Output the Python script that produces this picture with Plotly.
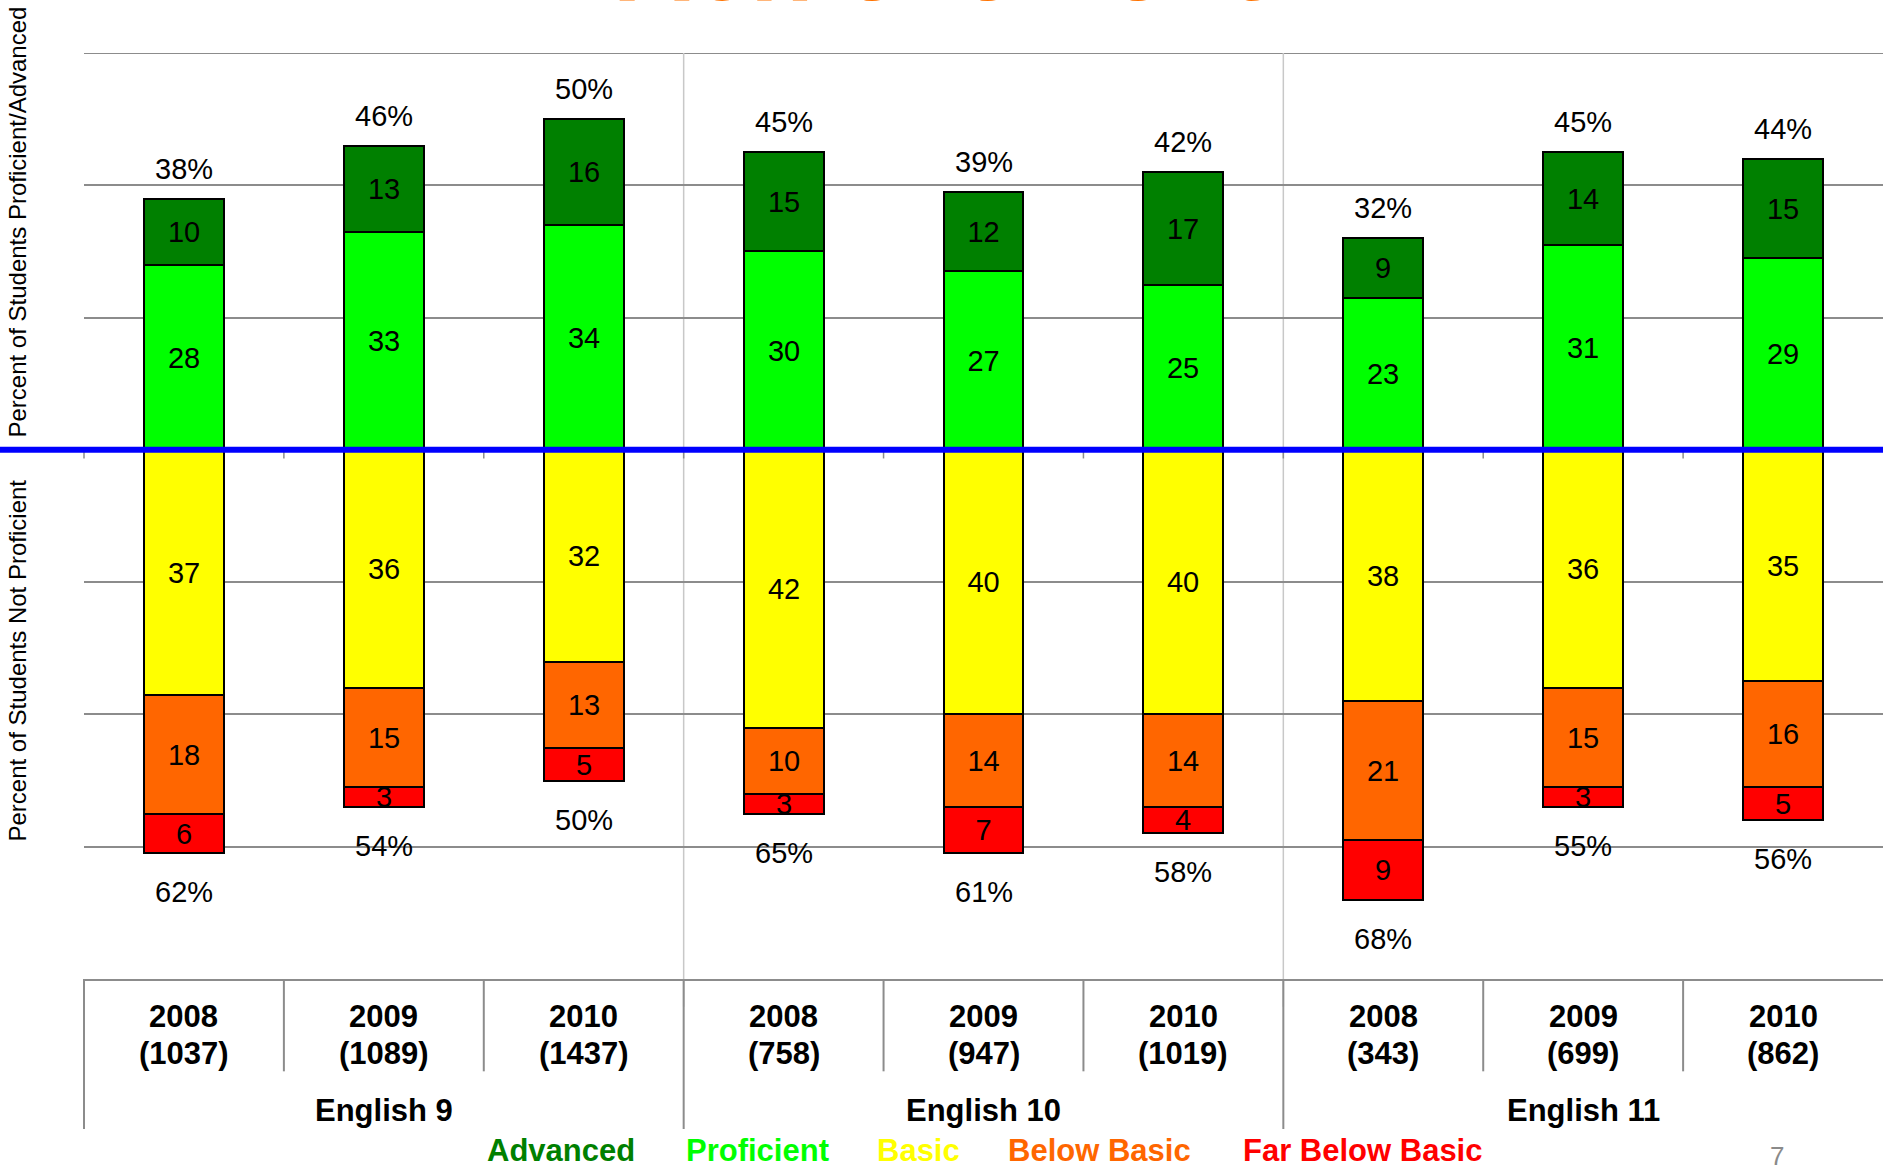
import plotly.graph_objects as go

# data
years = ['2008', '2009', '2010', '2008', '2009', '2010', '2008', '2009', '2010']
counts = ['(1037)', '(1089)', '(1437)', '(758)', '(947)', '(1019)', '(343)', '(699)', '(862)']
courses = ['English 9', 'English 10', 'English 11']

advanced = [10, 13, 16, 15, 12, 17, 9, 14, 15]
proficient = [28, 33, 34, 30, 27, 25, 23, 31, 29]
basic = [37, 36, 32, 42, 40, 40, 38, 36, 35]
below_basic = [18, 15, 13, 10, 14, 14, 21, 15, 16]
far_below = [6, 3, 5, 3, 7, 4, 9, 3, 5]

pct_prof = [38, 46, 50, 45, 39, 42, 32, 45, 44]
pct_not = [62, 54, 50, 65, 61, 58, 68, 55, 56]

levels = ['Advanced', 'Proficient', 'Basic', 'Below Basic', 'Far Below Basic']
colors = ['#008000', '#00FF00', '#FFFF00', '#FF6600', '#FF0000']

FONT = 'Liberation Sans, Arial, sans-serif'
GRID = '#8c8c8c'

x = list(range(len(years)))
n = len(years)


def note(fig, text, x, y, size, color='black', **kw):
    """Paper-referenced text, centred on (x, y)."""
    fig.add_annotation(x=x, y=y, xref=kw.pop('xref', 'paper'), yref='paper', text=text,
                       showarrow=False, xanchor='center', yanchor=kw.pop('yanchor', 'middle'),
                       font=dict(size=size, color=color, family=FONT), **kw)


fig = go.Figure()
# positive side stacks up from 0, negative side stacks down
series = [
    (proficient, 1, colors[1]),
    (advanced, 1, colors[0]),
    (basic, -1, colors[2]),
    (below_basic, -1, colors[3]),
    (far_below, -1, colors[4]),
]
for vals, sign, col in series:
    fig.add_trace(go.Bar(
        x=x, y=[sign * v for v in vals],
        width=0.4,
        marker=dict(color=col, line=dict(color='black', width=2)),
        text=[str(v) for v in vals],
        textposition='inside', insidetextanchor='middle', textangle=0,
        textfont=dict(size=29, color='black', family=FONT),
        showlegend=False, hoverinfo='skip'
    ))

# totals above / below each bar
pos_tot = [a + p for a, p in zip(advanced, proficient)]
neg_tot = [b + bb + f for b, bb, f in zip(basic, below_basic, far_below)]
for i in x:
    fig.add_annotation(x=i, y=pos_tot[i], yshift=30, text=f'{pct_prof[i]}%', showarrow=False,
                       font=dict(size=29, color='black', family=FONT))
    fig.add_annotation(x=i, y=-neg_tot[i], yshift=-39, text=f'{pct_not[i]}%', showarrow=False,
                       font=dict(size=29, color='black', family=FONT))

shapes = []
# top grid line
shapes.append(dict(type='line', xref='paper', yref='y', x0=0, x1=1, y0=60, y1=60,
                   line=dict(color=GRID, width=2), layer='below'))
# group separators in plot area
for k in (3, 6):
    shapes.append(dict(type='line', xref='paper', yref='paper', x0=k / n, x1=k / n, y0=-0.03, y1=1,
                       line=dict(color='#c8c8c8', width=1.5), layer='below'))
# category table
for k in range(n):
    bottom = -0.162 if k % 3 == 0 else -0.0997
    shapes.append(dict(type='line', xref='paper', yref='paper', x0=k / n, x1=k / n, y0=0, y1=bottom,
                       line=dict(color=GRID, width=2)))
# little ticks at zero line
for k in range(n):
    shapes.append(dict(type='line', xref='paper', yref='y', x0=k / n, x1=k / n, y0=0, y1=-1.3,
                       line=dict(color=GRID, width=1.5), layer='below'))
# blue zero line
shapes.append(dict(type='line', xref='paper', yref='y', x0=-84 / 1799, x1=1, y0=0, y1=0,
                   line=dict(color='#0000FF', width=6)))

for i in x:
    note(fig, f'<b>{years[i]}</b>', i, -0.0403, 31, xref='x')
    note(fig, f'<b>{counts[i]}</b>', i, -0.0802, 31, xref='x')
for j, c in enumerate(courses):
    note(fig, f'<b>{c}</b>', 3 * j + 1, -0.1418, 31, xref='x')

# legend as coloured words
legend_px = [561, 757, 918, 1099, 1362]
for lab, col, px in zip(levels, colors, legend_px):
    note(fig, f'<b>{lab}</b>', (px - 84) / 1799, -0.1855, 31, col)

# axis titles
note(fig, 'Percent of Students Proficient/Advanced', -0.0372, 0.817, 24, textangle=-90)
note(fig, 'Percent of Students Not Proficient', -0.0372, 0.344, 24, textangle=-90)

# slide title, mostly cut off at the top
note(fig, '<b>Achievement</b>', 0.476, 1.031, 104, '#FF7300', yanchor='bottom')
# page number
note(fig, '7', (1777 - 84) / 1799, -0.191, 26, '#8a8a8a')

fig.update_layout(
    width=1883, height=1167,
    margin=dict(l=84, r=0, t=53, b=188),
    barmode='relative', bargap=0,
    plot_bgcolor='white', paper_bgcolor='white',
    uniformtext=dict(minsize=29, mode='show'),
    shapes=shapes,
    font=dict(family=FONT),
)
fig.update_xaxes(range=[-0.5, 8.5], showticklabels=False, showgrid=False, zeroline=False,
                 showline=True, linecolor=GRID, linewidth=2, ticks='')
fig.update_yaxes(range=[-80, 60], dtick=20, showticklabels=False, showgrid=True, gridcolor=GRID,
                 gridwidth=1.5, zeroline=False, ticks='')

fig.write_html("out.html", config={'displayModeBar': False},
               post_script="document.body.style.margin='0';document.body.style.overflow='hidden';")
